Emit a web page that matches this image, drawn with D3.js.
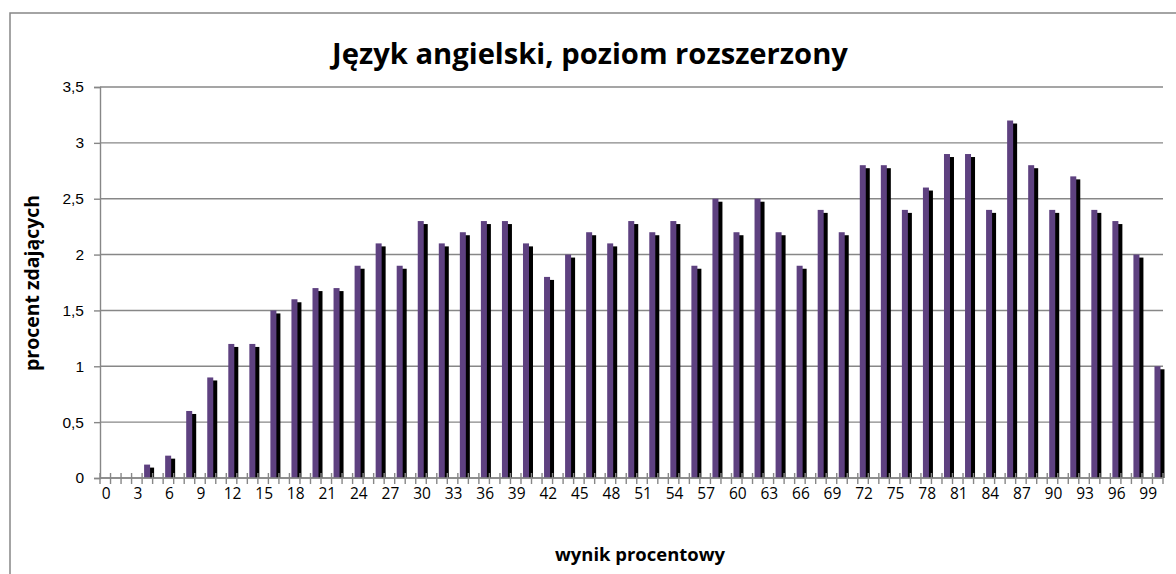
<!DOCTYPE html>
<html>

<head>
	<meta charset='utf-8'>
	<style>
		body {
			margin: 0;
			background-color: white;
		}

		svg {
			display: block;
			font-family: 'Open Sans', Lato, sans-serif;
		}
	</style>
</head>

<body>
	<svg></svg>
	<script src="https://d3js.org/d3.v7.min.js"></script>
	<script>
		// kategorie osi X: wynik procentowy 0..100
		var categories = [0, 1, 2, 3, 4, 5, 6, 7, 8, 9, 10, 11, 12, 13, 14, 15, 16, 17, 18, 19, 20,
			21, 22, 23, 24, 25, 26, 27, 28, 29, 30, 31, 32, 33, 34, 35, 36, 37, 38, 39, 40,
			41, 42, 43, 44, 45, 46, 47, 48, 49, 50, 51, 52, 53, 54, 55, 56, 57, 58, 59, 60,
			61, 62, 63, 64, 65, 66, 67, 68, 69, 70, 71, 72, 73, 74, 75, 76, 77, 78, 79, 80,
			81, 82, 83, 84, 85, 86, 87, 88, 89, 90, 91, 92, 93, 94, 95, 96, 97, 98, 99, 100];
		// wyniki, ktore wystepuja (co 2%) i procent zdajacych
		var scores = [0, 2, 4, 6, 8, 10, 12, 14, 16, 18, 20, 22, 24, 26, 28, 30, 32, 34, 36, 38, 40,
			42, 44, 46, 48, 50, 52, 54, 56, 58, 60, 62, 64, 66, 68, 70, 72, 74, 76, 78, 80,
			82, 84, 86, 88, 90, 92, 94, 96, 98, 100];
		var percents = [0, 0, 0.12, 0.2, 0.6, 0.9, 1.2, 1.2, 1.5, 1.6, 1.7, 1.7, 1.9, 2.1, 1.9, 2.3, 2.1,
			2.2, 2.3, 2.3, 2.1, 1.8, 2.0, 2.2, 2.1, 2.3, 2.2, 2.3, 1.9, 2.5, 2.2, 2.5, 2.2, 1.9, 2.4,
			2.2, 2.8, 2.8, 2.4, 2.6, 2.9, 2.9, 2.4, 3.2, 2.8, 2.4, 2.7, 2.4, 2.3, 2.0, 1.0];
		var xTickLabels = [0, 3, 6, 9, 12, 15, 18, 21, 24, 27, 30, 33, 36, 39, 42, 45, 48, 51, 54, 57,
			60, 63, 66, 69, 72, 75, 78, 81, 84, 87, 90, 93, 96, 99];
		var yTicks = [0, 0.5, 1, 1.5, 2, 2.5, 3, 3.5];

		var title = 'Język angielski, poziom rozszerzony';
		var yAxisName = 'procent zdających';
		var xAxisName = 'wynik procentowy';

		var svg_width = 1176, svg_height = 574;
		var plotLeft = 100, plotRight = 1163, plotTop = 87, plotBottom = 478;
		var gray = '#878787', purple = '#5e4180';

		var svg = d3.select('svg').attr('width', svg_width).attr('height', svg_height);

		var dataset = scores.map(function (s, i) { return { score: s, value: percents[i] } });
		var shown = dataset.filter(function (d) { return d.value > 0 });

		var x_scale = d3.scaleBand().domain(categories).range([plotLeft, plotRight]);
		var y_scale = d3.scaleLinear().domain([0, 3.5]).range([plotBottom, plotTop]);
		var bw = x_scale.bandwidth();

		// ramka wykresu
		svg.append('path').attr('d', 'M10,574V13H1176').attr('fill', 'none')
			.attr('stroke', gray).attr('stroke-width', 1.5);

		// linie siatki
		svg.append('g').selectAll('line').data(yTicks).enter().append('line')
			.attr('x1', plotLeft).attr('x2', plotRight)
			.attr('y1', function (d) { return y_scale(d) }).attr('y2', function (d) { return y_scale(d) })
			.attr('stroke', gray).attr('stroke-width', 1.4);

		// os Y
		var y_axis = d3.axisLeft(y_scale).tickValues(yTicks).tickSize(6).tickPadding(10)
			.tickFormat(function (d) { return String(d).replace('.', ',') });
		var gy = svg.append('g').attr('transform', 'translate(' + plotLeft + ',0)').call(y_axis);
		gy.select('.domain').attr('stroke', gray).attr('stroke-width', 1.4);
		gy.selectAll('.tick line').attr('stroke', gray).attr('stroke-width', 1.4);
		gy.selectAll('text').attr('font-size', 15.5).attr('fill', '#000').attr('font-family', 'inherit');

		// slupki: cien + slupek
		var bars = svg.append('g');
		bars.selectAll('rect.shadow').data(shown).enter()
			.append('rect').attr('class', 'shadow')
			.attr('x', function (d) { return x_scale(d.score) + 2 + 4 })
			.attr('y', function (d) { return y_scale(d.value) + 3 })
			.attr('width', 6)
			.attr('height', function (d) { return Math.max(0, plotBottom - y_scale(d.value) - 3) })
			.attr('fill', '#000');
		bars.selectAll('rect.bar').data(shown).enter()
			.append('rect').attr('class', 'bar')
			.attr('x', function (d) { return x_scale(d.score) + 2 })
			.attr('y', function (d) { return y_scale(d.value) })
			.attr('width', 6)
			.attr('height', function (d) { return plotBottom - y_scale(d.value) })
			.attr('fill', purple);

		// os X z krzyzowymi znacznikami na granicach kategorii
		var bounds = categories.map(function (c) { return x_scale(c) }).concat([plotRight]);
		var gx = svg.append('g');
		gx.append('line').attr('x1', plotLeft).attr('x2', plotRight).attr('y1', plotBottom).attr('y2', plotBottom)
			.attr('stroke', gray).attr('stroke-width', 1.4);
		gx.selectAll('line.tick').data(bounds).enter().append('line').attr('class', 'tick')
			.attr('x1', function (d) { return d }).attr('x2', function (d) { return d })
			.attr('y1', plotBottom - 5).attr('y2', plotBottom + 6)
			.attr('stroke', gray).attr('stroke-width', 1.4);
		gx.selectAll('text').data(xTickLabels).enter().append('text')
			.attr('x', function (d) { return x_scale(d) + bw / 2 + 1 })
			.attr('y', plotBottom + 21)
			.attr('text-anchor', 'middle').attr('font-size', 15.5).attr('fill', '#000')
			.text(function (d) { return d });

		// tytuly, dopasowane do szerokosci z oryginalu
		function fit(sel, target) {
			var size = +sel.attr('font-size');
			var w = sel.node().getComputedTextLength();
			if (w > 0) sel.attr('font-size', size * target / w);
		}
		var t = svg.append('text').attr('x', 590).attr('y', 64).attr('text-anchor', 'middle')
			.attr('font-size', 27).attr('font-weight', 'bold').attr('fill', '#000').text(title);
		fit(t, 516);
		var tx = svg.append('text').attr('x', 640).attr('y', 561).attr('text-anchor', 'middle')
			.attr('font-size', 17).attr('font-weight', 'bold').attr('fill', '#000').text(xAxisName);
		fit(tx, 170);
		var ty = svg.append('text').attr('transform', 'translate(39,283) rotate(-90)').attr('text-anchor', 'middle')
			.attr('font-size', 17).attr('font-weight', 'bold').attr('fill', '#000').text(yAxisName);
		fit(ty, 176);
	</script>
</body>

</html>
